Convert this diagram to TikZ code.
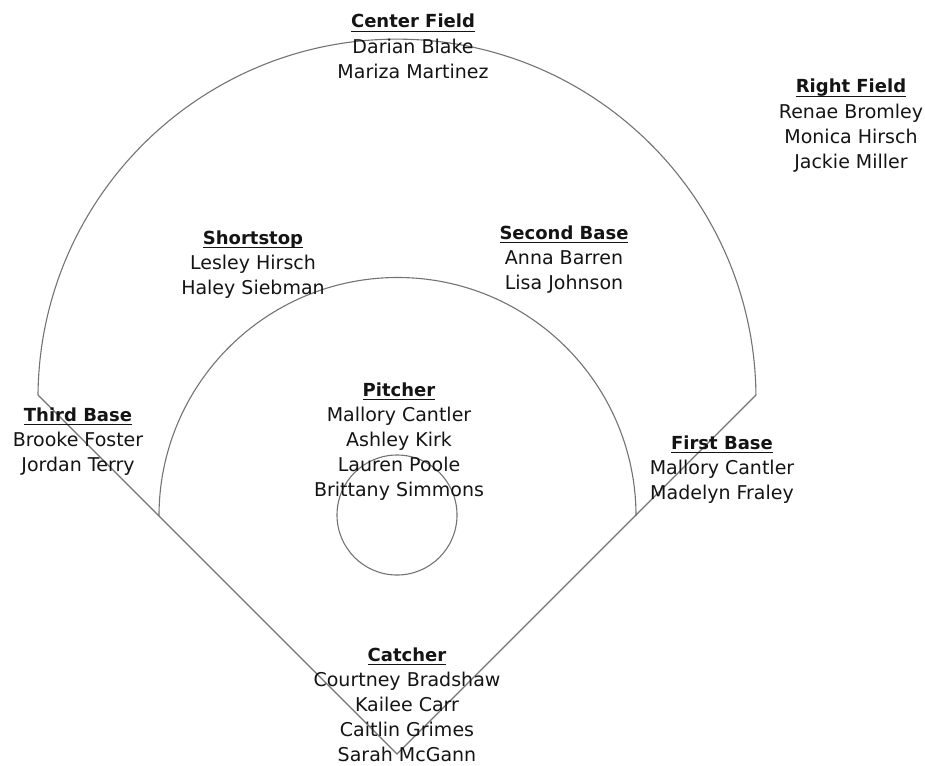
\documentclass[tikz,border=0pt]{standalone}
\usepackage{fontspec}
\setmainfont{DejaVu Sans}
\definecolor{fieldline}{RGB}{115,115,115}
\definecolor{txt}{RGB}{20,20,20}
\newsavebox{\ulbox}
\newcommand{\posul}[1]{\sbox{\ulbox}{\fontsize{18}{25.3}\selectfont\textbf{#1}}\rlap{\rule[-4.2pt]{\wd\ulbox}{1.4pt}}\usebox{\ulbox}}
\newcommand{\roster}[2]{\begin{tabular}[t]{@{}c@{}}\posul{#1}\\#2\end{tabular}}
\begin{document}
\begin{tikzpicture}[x=1pt,y=-1pt,
  fieldstroke/.style={draw=fieldline, line width=1.1pt},
  roster/.style={anchor=base, inner sep=0pt, text=txt, font=\fontsize{19}{25.2}\selectfont}]
\useasboundingbox (0,0) rectangle (925,765);
% field geometry
\coordinate (home) at (397,754);
\coordinate (lout) at (38,395);
\coordinate (rout) at (756,395);
\coordinate (linf) at (159,516);
\draw[fieldstroke] (lout) -- (home) -- (rout);
\draw[fieldstroke] (lout) arc[start angle=180.5, end angle=359.5, radius=359];
\draw[fieldstroke] (linf) arc[start angle=180, end angle=360, radius=238.5];
\draw[fieldstroke] (397,515) circle[radius=60];
% rosters
\node[roster] (cf) at (413,28) {\roster{Center Field}{Darian Blake\\Mariza Martinez}};
\node[roster] (rf) at (851,93) {\roster{Right Field}{Renae Bromley\\Monica Hirsch\\Jackie Miller}};
\node[roster] (ss) at (253,244) {\roster{Shortstop}{Lesley Hirsch\\Haley Siebman}};
\node[roster] (sb) at (564,239) {\roster{Second Base}{Anna Barren\\Lisa Johnson}};
\node[roster] (tb) at (78,421) {\roster{Third Base}{Brooke Foster\\Jordan Terry}};
\node[roster] (p) at (399,396) {\roster{Pitcher}{Mallory Cantler\\Ashley Kirk\\Lauren Poole\\Brittany Simmons}};
\node[roster] (fb) at (722,449) {\roster{First Base}{Mallory Cantler\\Madelyn Fraley}};
\node[roster] (c) at (407,661) {\roster{Catcher}{Courtney Bradshaw\\Kailee Carr\\Caitlin Grimes\\Sarah McGann}};
\end{tikzpicture}
\end{document}
